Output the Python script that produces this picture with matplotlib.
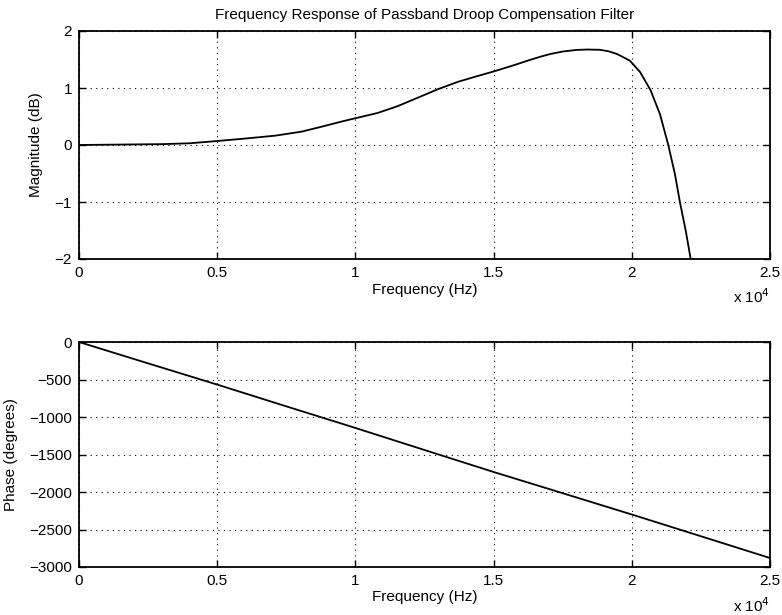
import matplotlib
matplotlib.use("Agg")
import matplotlib.pyplot as plt
from matplotlib.ticker import FuncFormatter, MultipleLocator

plt.rcParams['font.family'] = ['Liberation Sans', 'DejaVu Sans']

# Magnitude response (Hz, dB)
freq_mag = [0, 1000, 2000, 3000, 4000, 5000, 6100, 7100, 8050, 8770, 9490,
            10000, 10790, 11520, 12260, 12990, 13720, 14350, 15000, 15670,
            16300, 16700, 17040, 17500, 18000, 18400, 18850, 19150, 19450,
            19930, 20300, 20680, 21020, 21320, 21560, 21740, 21950, 22130,
            22200]
mag_db = [0.0, 0.005, 0.01, 0.015, 0.03, 0.07, 0.117, 0.164, 0.234, 0.32, 0.41,
          0.47, 0.56, 0.68, 0.83, 0.98, 1.11, 1.20, 1.29, 1.39,
          1.49, 1.55, 1.595, 1.64, 1.668, 1.675, 1.67, 1.645, 1.60,
          1.48, 1.28, 0.96, 0.54, 0.0, -0.51, -1.0, -1.5, -2.0,
          -2.25]

# Phase response (Hz, degrees)
freq_phase = [0, 2500, 5000, 7500, 10000, 12500, 15000, 17500, 20000, 22500, 25000]
phase_deg = [0, -285, -568, -858, -1146, -1440, -1733, -2016, -2300, -2590, -2880]

x_ticks = [0, 5000, 10000, 15000, 20000, 25000]

fig = plt.figure(figsize=(7.82, 6.15), dpi=100)
ax1 = fig.add_axes([79/782, 1-259/615, 691/782, 228/615])
ax2 = fig.add_axes([79/782, 1-567/615, 691/782, 225/615])

fmt = FuncFormatter(lambda v, p: ('%g' % (v / 1e4)))

for ax in (ax1, ax2):
    ax.set_xlim(0, 25000)
    ax.set_xticks(x_ticks)
    ax.xaxis.set_major_formatter(fmt)
    ax.grid(True, color='black', linestyle=(0, (1, 4)), linewidth=0.8)
    ax.tick_params(direction='in', length=5, width=1, top=True, right=True,
                   labelsize=11, colors='black', pad=5)
    for s in ax.spines.values():
        s.set_linewidth(1.3)
    ax.set_xlabel('Frequency (Hz)', fontsize=11)

ax1.plot(freq_mag, mag_db, color='black', linewidth=1.3)
ax1.set_ylim(-2, 2)
ax1.yaxis.set_major_locator(MultipleLocator(1))
ax1.set_ylabel('Magnitude (dB)', fontsize=11)
ax1.yaxis.set_label_coords(-0.052, 0.5)
ax1.xaxis.set_label_coords(0.5, -0.105)
ax1.set_title('Frequency Response of Passband Droop Compensation Filter',
              fontsize=11, pad=9)
ax1.text(1.0, -0.125, r'x 10$^4$', transform=ax1.transAxes, ha='right',
         va='top', fontsize=11)

ax2.plot(freq_phase, phase_deg, color='black', linewidth=1.3)
ax2.set_ylim(-3000, 0)
ax2.yaxis.set_major_locator(MultipleLocator(500))
ax2.set_ylabel('Phase (degrees)', fontsize=11)
ax2.yaxis.set_label_coords(-0.088, 0.5)
ax2.xaxis.set_label_coords(0.5, -0.10)
ax2.text(1.0, -0.13, r'x 10$^4$', transform=ax2.transAxes, ha='right',
         va='top', fontsize=11)

fig.savefig('out.png', dpi=100)
